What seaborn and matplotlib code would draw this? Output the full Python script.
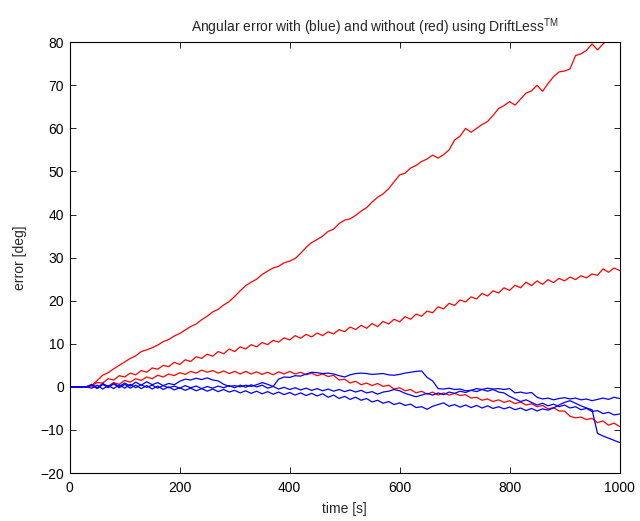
import matplotlib
matplotlib.use("Agg")
import matplotlib.pyplot as plt
import seaborn as sns
import pandas as pd

# sampling grid (s)
time_s = list(range(0, 1001, 10))

red_1 = [0, 0, 0, 0, 0.3, 1.5, 2.7, 3.3, 4.2, 5.0,
         5.8, 6.6, 7.2, 8.2, 8.6, 9.1, 9.7, 10.5, 11.0, 11.8,
         12.4, 13.2, 14.0, 14.6, 15.6, 16.4, 17.4, 18.0, 19.0, 19.8,
         21.0, 22.3, 23.5, 24.3, 25.0, 26.1, 26.9, 27.6, 28.0, 28.8,
         29.2, 29.8, 31.0, 32.4, 33.5, 34.2, 35.0, 36.1, 36.6, 37.9,
         38.7, 39.0, 39.8, 40.8, 41.6, 42.9, 44.0, 44.8, 46.0, 47.6,
         49.2, 49.6, 50.8, 51.4, 52.3, 52.9, 53.8, 53.1, 53.9, 55.0,
         57.3, 58.2, 60.0, 59.1, 60.0, 60.9, 61.6, 63.0, 64.6, 65.3,
         66.2, 65.4, 66.8, 68.2, 68.7, 70.0, 68.6, 70.4, 72.0, 73.1,
         73.3, 73.8, 76.9, 77.3, 78.1, 79.6, 78.2, 79.6, 80.6, 81.5,
         82.0]

red_2 = [0, 0, 0, 0, 0.3, 1.0, 0.9, 1.9, 1.6, 2.6,
         2.3, 3.2, 2.8, 3.8, 3.4, 4.4, 4.1, 5.0, 4.7, 5.7,
         5.2, 6.3, 5.9, 7.0, 6.6, 7.6, 7.1, 8.2, 7.7, 8.8,
         8.2, 9.3, 8.8, 9.8, 9.3, 10.3, 9.8, 10.8, 10.4, 11.4,
         10.9, 11.9, 11.3, 12.2, 11.6, 12.5, 11.9, 12.8, 12.3, 13.3,
         12.8, 13.9, 13.3, 14.3, 13.6, 14.7, 14.0, 15.2, 14.6, 15.7,
         15.1, 16.3, 15.7, 16.9, 16.4, 17.6, 17.2, 18.6, 18.1, 19.4,
         18.9, 20.2, 19.7, 20.9, 20.4, 21.7, 21.1, 22.3, 21.8, 23.0,
         22.4, 23.6, 23.0, 24.3, 23.5, 24.6, 23.8, 24.9, 24.2, 25.2,
         24.6, 25.5, 24.9, 25.8, 25.3, 26.2, 25.9, 27.4, 26.6, 27.6,
         27.0]

red_3 = [0, 0, 0, 0, 0.2, -0.3, 0.6, 0.2, 1.0, 0.6,
         1.5, 1.1, 1.9, 1.5, 2.3, 1.9, 2.7, 2.3, 3.0, 2.6,
         3.3, 2.9, 3.6, 3.2, 3.9, 3.4, 3.8, 3.2, 3.7, 3.1,
         3.6, 3.0, 3.6, 3.0, 3.5, 2.9, 3.4, 2.8, 3.5, 3.0,
         3.6, 3.0, 3.4, 2.8, 3.2, 2.6, 3.0, 2.4, 2.7, 1.6,
         1.8, 0.9, 1.3, 0.5, 0.9, 0.3, 0.8, 0.1, 0.4, -0.5,
         -0.2, -0.9, -0.6, -1.4, -1.0, -1.7, -1.2, -1.9, -1.4, -1.9,
         -1.5, -2.0, -1.8, -2.6, -2.4, -3.1, -2.8, -3.4, -3.0, -3.6,
         -3.2, -3.9, -3.5, -4.2, -3.9, -4.6, -4.3, -5.1, -4.8, -5.6,
         -5.6, -6.8, -7.2, -7.0, -7.6, -7.3, -8.3, -7.9, -8.9, -8.4,
         -9.2]

blue_1 = [0, 0, 0, 0, 0.5, -0.4, 0.6, -0.2, 0.8, 0.1,
          0.9, 0.2, 1.1, 0.4, 1.2, 0.5, 1.0, 0.3, 0.8, 0.5,
          1.3, 1.8, 1.6, 2.0, 1.7, 2.1, 1.6, 1.4, 0.6, 0.1,
          0.3, 0.0, 0.4, 0.1, 0.5, 1.0, 0.6, 0.1, 1.8, 2.3,
          2.2, 2.6, 2.5, 3.0, 3.4, 3.3, 3.1, 3.2, 3.0, 2.6,
          2.3, 2.8, 3.1, 3.2, 3.1, 2.9, 3.0, 3.1, 2.8, 2.7,
          2.9, 3.2, 3.4, 3.6, 3.7, 2.2, 1.4, -0.4, -0.5, -0.3,
          -0.6, -0.5, -0.9, -0.8, -0.4, -0.6, -0.3, -0.5, -0.4, -0.6,
          -0.4, -1.4, -1.2, -1.5, -1.3, -2.4, -2.8, -2.6, -3.0, -2.7,
          -2.5, -2.8, -2.6, -3.0, -2.8, -3.2, -2.9, -2.6, -2.9, -2.4,
          -2.7]

blue_2 = [0, 0, 0, 0, -0.3, 0.4, -0.5, 0.3, -0.4, 0.5,
          -0.3, 0.6, -0.2, 0.5, -0.1, 0.4, -0.3, 0.3, -0.2, 0.2,
          -0.3, 0.3, -0.2, 0.2, -0.4, 0.1, -0.3, 0.2, -0.2, 0.3,
          -0.2, 0.4, -0.1, 0.5, 0.0, 0.4, -0.3, 0.1, -0.5, -0.1,
          -0.6, -0.2, -0.7, -0.3, -0.8, -0.4, -0.9, -0.5, -1.0, -0.6,
          -1.1, -0.7, -1.2, -0.8, -1.4, -1.1, -1.7, -1.2, -1.0, -0.6,
          -0.9, -1.5, -1.9, -2.3, -1.9, -1.5, -1.9, -1.4, -1.8, -1.2,
          -1.5, -1.0, -1.3, -0.8, -1.1, -0.6, -1.0, -0.6, -1.2, -1.4,
          -2.2, -2.8, -3.4, -3.0, -3.6, -4.2, -3.8, -4.4, -4.0, -4.6,
          -4.2, -4.9, -4.6, -5.3, -5.0, -5.7, -5.5, -6.2, -5.9, -6.5,
          -6.3]

blue_3 = [0, 0, 0, 0, 0.6, -0.2, 0.8, 0.0, 0.7, -0.2,
          0.6, -0.3, 0.4, -0.4, 0.3, -0.5, 0.2, -0.6, 0.0, -0.7,
          -0.2, -0.8, -0.3, -0.9, -0.4, -1.0, -0.5, -1.1, -0.6, -1.2,
          -0.8, -1.4, -0.9, -1.5, -1.0, -1.6, -1.1, -1.7, -1.2, -1.8,
          -1.3, -1.9, -1.4, -2.0, -1.5, -2.1, -1.6, -2.4, -1.9, -2.7,
          -2.2, -2.9, -2.4, -3.1, -2.7, -3.5, -3.1, -3.8, -3.4, -4.1,
          -3.7, -4.3, -4.0, -4.8, -4.6, -5.2, -4.5, -4.1, -3.7, -4.5,
          -4.1, -4.7, -4.2, -4.8, -4.3, -4.9, -4.4, -5.0, -4.6, -5.1,
          -4.7, -5.3, -4.9, -5.5, -5.0, -5.6, -5.1, -5.4, -4.9, -4.2,
          -3.6, -3.2, -3.8, -4.4, -4.9, -5.3, -10.8, -11.4, -11.9, -12.4,
          -12.9]

title_text = "Angular error with (blue) and without (red) using DriftLess$^{\\mathrm{TM}}$"
x_label = "time [s]"
y_label = "error [deg]"
x_ticks = [0, 200, 400, 600, 800, 1000]
y_ticks = [-20, -10, 0, 10, 20, 30, 40, 50, 60, 70, 80]

sns.set_style("ticks")
plt.rcParams["font.family"] = ["Liberation Sans", "DejaVu Sans"]
plt.rcParams["mathtext.fontset"] = "custom"
plt.rcParams["mathtext.rm"] = "Liberation Sans"
plt.rcParams["mathtext.it"] = "Liberation Sans:italic"

fig = plt.figure(figsize=(6.4, 5.21), dpi=100)
ax = fig.add_axes([0.109, 0.092, 0.859, 0.827])

series = [("r1", red_1, "#ff0000"), ("r2", red_2, "#ff0000"), ("r3", red_3, "#ff0000"),
          ("b1", blue_1, "#0000ff"), ("b2", blue_2, "#0000ff"), ("b3", blue_3, "#0000ff")]
for name, vals, col in series:
    df = pd.DataFrame({"t": time_s, "v": vals})
    sns.lineplot(data=df, x="t", y="v", color=col, lw=0.9, ax=ax, legend=False)

ax.set_xlim(0, 1000)
ax.set_ylim(-20, 80)
ax.set_xticks(x_ticks)
ax.set_yticks(y_ticks)
ax.set_yticklabels([str(v).replace("-", "\u2212") for v in y_ticks])
ax.tick_params(direction="in", length=4, width=0.6, top=True, right=True,
               labelsize=10, colors="black")
ax.tick_params(axis="x", pad=6)
ax.tick_params(axis="y", pad=4)
for s in ax.spines.values():
    s.set_visible(True)
    s.set_linewidth(0.8)
    s.set_color("black")
ax.set_xlabel(x_label, fontsize=10, labelpad=5)
ax.set_ylabel(y_label, fontsize=10, labelpad=10)
ax.set_title(title_text, fontsize=10, pad=7, x=0.555)

fig.savefig("out.png", dpi=100, facecolor="white")
